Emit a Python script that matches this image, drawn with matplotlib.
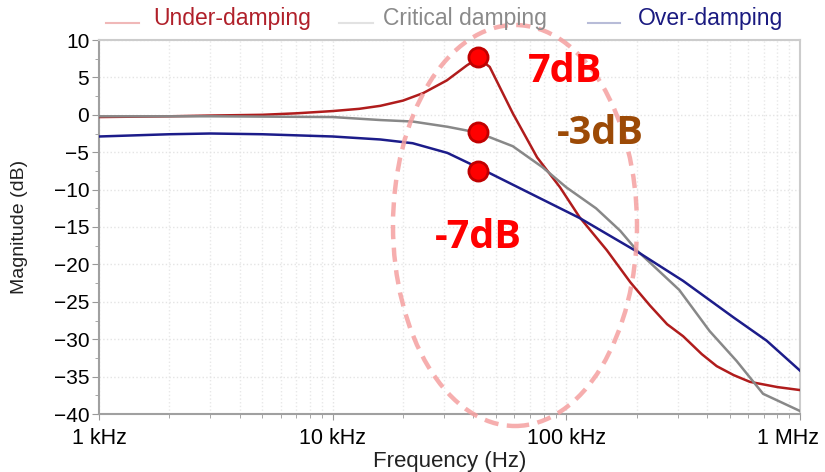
import numpy as np
import matplotlib
matplotlib.use("Agg")
import matplotlib.pyplot as plt
import matplotlib.transforms as mtransforms
from matplotlib.patches import Ellipse
from matplotlib.lines import Line2D
from matplotlib.ticker import FixedLocator, LogLocator, NullFormatter, MultipleLocator

plt.rcParams['font.family'] = ['Liberation Sans', 'DejaVu Sans']

# under-damping (Hz, dB)
freq_under = [1e3, 2e3, 3e3, 5e3, 7e3, 10e3, 13e3, 16e3, 20e3, 24.4e3, 30.8e3, 37.5e3, 42e3,
              47e3, 59e3, 75e3, 94e3, 114e3, 149e3, 188e3, 228e3, 270e3, 316e3, 380e3,
              440e3, 520e3, 610e3, 800e3, 1e6]
mag_under = [-0.3, -0.2, -0.1, 0.0, 0.2, 0.5, 0.8, 1.2, 1.9, 2.9, 4.6, 6.6, 7.6,
             6.4, 0.2, -5.7, -9.7, -13.7, -18.1, -22.4, -25.5, -28.0, -29.6, -32.0,
             -33.6, -34.8, -35.7, -36.4, -36.8]

# critical damping
freq_crit = [1e3, 3e3, 10e3, 16e3, 22e3, 31e3, 42e3, 59e3, 79e3, 100e3, 134e3, 170e3, 200e3,
             304e3, 410e3, 535e3, 695e3, 1e6]
mag_crit = [-0.2, -0.2, -0.3, -0.7, -0.9, -1.6, -2.4, -4.2, -7.0, -9.7, -12.5, -15.5, -18.1,
            -23.4, -28.9, -32.9, -37.3, -39.6]

# over-damping
freq_over = [1e3, 2e3, 3e3, 5e3, 10e3, 16e3, 22e3, 31e3, 47e3, 70e3, 114e3, 206e3,
             316e3, 520e3, 720e3, 1e6]
mag_over = [-2.9, -2.6, -2.5, -2.6, -2.9, -3.3, -3.8, -5.1, -7.8, -10.5, -13.8, -18.5,
            -22.2, -27.1, -30.2, -34.2]

# marked points at the resonance frequency
mark_freq = [41.9e3, 41.9e3, 41.9e3]
mark_mag = [7.7, -2.3, -7.5]

xticks = [1e3, 1e4, 1e5, 1e6]
xtick_labels = ['1 kHz', '10 kHz', '100 kHz', '1 MHz']
yticks = list(range(-40, 11, 5))

W, H = 825, 472
fig = plt.figure(figsize=(W / 100, H / 100), dpi=100)
ax = fig.add_axes([99 / W, 1 - 414 / H, 701 / W, 374 / H])

ax.plot(freq_under, mag_under, color='#b01c1c', lw=1.8, zorder=3)
ax.plot(freq_crit, mag_crit, color='#888888', lw=1.8, zorder=3)
ax.plot(freq_over, mag_over, color='#1c1c8a', lw=1.8, zorder=3)

ax.scatter(mark_freq, mark_mag, s=190, color='#ff0000', edgecolor='#c00000',
           linewidth=2, zorder=5, clip_on=False)

ax.set_xscale('log')
ax.set_xlim(1e3, 1e6)
ax.set_ylim(-40, 10)
ax.xaxis.set_major_locator(FixedLocator(xticks))
ax.set_xticklabels(xtick_labels)
ax.xaxis.set_minor_locator(LogLocator(base=10, subs=np.arange(2, 10)))
ax.xaxis.set_minor_formatter(NullFormatter())
ax.set_yticks(yticks)
ax.yaxis.set_minor_locator(MultipleLocator(2.5))

ax.tick_params(axis='x', which='major', labelsize=15.5, length=4, color='#999999', pad=6)
ax.tick_params(axis='x', which='minor', length=3, color='#999999')
ax.tick_params(axis='y', which='major', labelsize=15, length=5, color='#999999', pad=2)
ax.tick_params(axis='y', which='minor', length=3, color='#999999')

# last tick label sits a bit left so it stays inside the figure
last = ax.get_xticklabels()[-1]
last.set_transform(last.get_transform() + mtransforms.ScaledTranslation(-12 / 100, 0, fig.dpi_scale_trans))

ax.grid(True, which='major', axis='both', color='#e4e4e4', linestyle=':', lw=1)
ax.grid(True, which='minor', axis='x', color='#e8e8e8', linestyle=':', lw=1)
ax.set_axisbelow(True)

for s in ['left', 'bottom']:
    ax.spines[s].set_color('#a0a0a0')
    ax.spines[s].set_linewidth(1.5)
for s in ['top', 'right']:
    ax.spines[s].set_color('#cccccc')
    ax.spines[s].set_linewidth(1.5)

ax.set_xlabel('Frequency (Hz)', fontsize=16, color='#222222')
ax.xaxis.set_label_coords(0.5, -(451 - 414) / 374, transform=ax.transAxes)
ax.set_ylabel('Magnitude (dB)', fontsize=14, color='#222222')
ax.yaxis.set_label_coords((28 - 99) / 701, 0.5)

# dashed highlight ellipse
ell = Ellipse((515 / W, 1 - 225.5 / H), 244 / W, 401 / H, transform=fig.transFigure,
              fill=False, edgecolor='#f5a0a0', lw=3.2, linestyle=(0, (3.2, 1.9)),
              clip_on=False, zorder=2, alpha=0.85)
fig.add_artist(ell)

# annotations
fig.text(565 / W, 1 - 72 / H, '7dB', fontsize=28.5, fontweight='bold', color='#ff0000',
         family=['Open Sans', 'DejaVu Sans'], ha='center', va='center')
fig.text(600 / W, 1 - 133 / H, '-3dB', fontsize=28.5, fontweight='bold', color='#9c4a06',
         family=['Open Sans', 'DejaVu Sans'], ha='center', va='center')
fig.text(478 / W, 1 - 238 / H, '-7dB', fontsize=28.5, fontweight='bold', color='#ff0000',
         family=['Open Sans', 'DejaVu Sans'], ha='center', va='center')

# legend at the top
legend_items = [
    ('Under-damping', '#f0b8b8', '#b0202a', 106, 139, 153),
    ('Critical damping', '#e2e2e2', '#8a8a8a', 339, 373, 383),
    ('Over-damping', '#b8bcd8', '#1a1a80', 588, 620, 638),
]
for label, lcol, tcol, x0, x1, tx in legend_items:
    fig.add_artist(Line2D([x0 / W, x1 / W], [1 - 23 / H, 1 - 23 / H], color=lcol, lw=1.5,
                          transform=fig.transFigure))
    fig.text(tx / W, 1 - 18 / H, label, fontsize=16.5, color=tcol, ha='left', va='center')

fig.savefig('out.png', dpi=100, facecolor='white')
